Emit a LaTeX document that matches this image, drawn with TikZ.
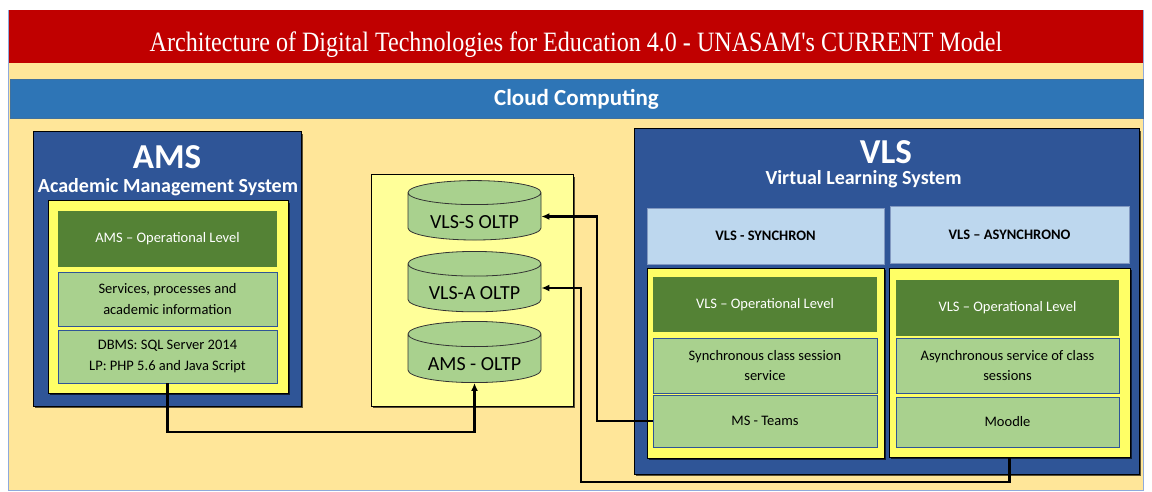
\documentclass[tikz,border=0pt]{standalone}
\usepackage{fontspec}
\setmainfont{Carlito}
\newfontfamily\bannerfont[FakeStretch=0.86]{Liberation Serif}
\usepackage{xcolor}
\usetikzlibrary{arrows.meta,positioning,shapes.geometric,shadows}
\definecolor{ArchRed}{RGB}{192, 0, 0}
\definecolor{ArchSand}{RGB}{255, 230, 153}
\definecolor{ArchCloud}{RGB}{46, 117, 182}
\definecolor{ArchCloudEdge}{RGB}{65, 113, 156}
\definecolor{ArchNavy}{RGB}{47, 85, 151}
\definecolor{ArchLemon}{RGB}{255, 255, 102}
\definecolor{ArchPale}{RGB}{255, 255, 153}
\definecolor{ArchGreen}{RGB}{84, 130, 53}
\definecolor{ArchLeaf}{RGB}{169, 209, 142}
\definecolor{ArchSky}{RGB}{189, 215, 238}
\definecolor{ArchFrame}{RGB}{143, 170, 220}
\tikzset{
    boxshadow/.style={drop shadow={shadow xshift=2pt,shadow yshift=-2pt,fill=black,opacity=.65}},
    banner/.style={fill=ArchRed,text=white,minimum width=1134pt,minimum height=53pt,
        inner sep=0pt,text height=30pt,text depth=0pt,font=\bannerfont\fontsize{28}{32}\selectfont},
    cloudbar/.style={fill=ArchCloud,draw=ArchCloudEdge,line width=1pt,text=white,
        minimum width=1133pt,minimum height=39pt,inner sep=0pt,font=\bfseries\fontsize{23}{26}\selectfont},
    sysbox/.style={boxshadow,fill=ArchNavy,draw=black,line width=1pt,inner sep=0pt},
    bigtitle/.style={text=white,inner sep=0pt,font=\bfseries\fontsize{35}{38}\selectfont},
    subtitle/.style={text=white,inner sep=0pt,font=\bfseries\fontsize{20}{24}\selectfont},
    lemonbox/.style={boxshadow,fill=ArchLemon,draw=black,line width=1pt,inner sep=0pt},
    oplevel/.style={fill=ArchGreen,text=white,inner sep=0pt,font=\fontsize{14.5}{20}\selectfont},
    leafbox/.style={fill=ArchLeaf,draw=ArchNavy,line width=0.8pt,inner sep=0pt,align=center,
        font=\fontsize{14.5}{20.5}\selectfont},
    modehead/.style={fill=ArchSky,draw=ArchNavy!60,line width=0.6pt,inner sep=0pt,
        font=\bfseries\fontsize{14.5}{18}\selectfont},
    oltp/.style={cylinder,shape border rotate=90,aspect=0.27,fill=ArchLeaf,draw=black!80,
        line width=0.8pt,minimum width=133pt,minimum height=57pt,inner sep=0pt,
        text height=23pt,text depth=0pt,font=\fontsize{20}{24}\selectfont},
    conn/.style={line width=2.2pt,-{Latex[length=8pt,width=7pt]}}
}
\begin{document}
\begin{tikzpicture}[x=1pt,y=-1pt]
\useasboundingbox[fill=white] (0,0) rectangle (1152,492);
\filldraw[fill=ArchSand,draw=ArchFrame,line width=0.8pt] (8,10) rectangle (1143,490);
\node[banner] (title) at (576,37) {Architecture of Digital Technologies for Education 4.0 - UNASAM's CURRENT Model};
\node[cloudbar] (cloud) at (576.5,99.5) {Cloud Computing};

% academic management system
\node[sysbox,minimum width=268pt,minimum height=274pt] (ams) at (167,269) {};
\node[bigtitle] (amsName) at (167,157) {AMS};
\node[subtitle] (amsLong) at (168,187) {Academic Management System};
\node[lemonbox,minimum width=240pt,minimum height=192pt] (amsCore) at (168,297) {};
\node[oplevel,minimum width=219pt,minimum height=56pt] (amsOp) at (167.5,239) {AMS – Operational Level};
\node[leafbox,minimum width=219pt,minimum height=54pt] (amsSvc) at (167.5,299) {Services, processes and\\academic information};
\node[leafbox,minimum width=219pt,minimum height=53pt] (amsDbms) at (167.5,356.5) {DBMS: SQL Server 2014\\LP: PHP 5.6 and Java Script};

% databases
\node[boxshadow,fill=ArchPale,draw=black,line width=1pt,minimum width=202pt,minimum height=231pt] (oltpBox) at (472,290.5) {};
\node[oltp] (cylSync) at (474.5,216.5) {VLS-S OLTP};
\node[oltp] (cylAsync) at (474.5,288) {VLS-A OLTP};
\node[oltp] (cylAms) at (474.5,358.5) {AMS - OLTP};

% virtual learning system
\node[sysbox,minimum width=505pt,minimum height=345pt] (vls) at (886.5,301.5) {};
\node[bigtitle] (vlsName) at (886,152) {VLS};
\node[subtitle] (vlsLong) at (863.5,179) {Virtual Learning System};
\node[modehead,minimum width=237pt,minimum height=56pt] (syncHead) at (765.5,236) {VLS - SYNCHRON};
\node[modehead,minimum width=239pt,minimum height=57pt] (asyncHead) at (1009.5,234.5) {VLS – ASYNCHRONO};
\node[lemonbox,minimum width=237pt,minimum height=190pt] (syncCore) at (765.5,363) {};
\node[lemonbox,minimum width=241pt,minimum height=189pt] (asyncCore) at (1009.5,362.5) {};
\node[oplevel,minimum width=224pt,minimum height=55pt] (syncOp) at (765,304.5) {VLS – Operational Level};
\node[leafbox,minimum width=224pt,minimum height=55pt] (syncSvc) at (765,365.5) {Synchronous class session\\service};
\node[leafbox,minimum width=224pt,minimum height=52pt] (teams) at (765,421) {MS - Teams};
\node[oplevel,minimum width=223pt,minimum height=56pt] (asyncOp) at (1007.5,308) {VLS – Operational Level};
\node[leafbox,minimum width=223pt,minimum height=55pt] (asyncSvc) at (1007.5,365.5) {Asynchronous service of class\\sessions};
\node[leafbox,minimum width=223pt,minimum height=50pt] (moodle) at (1007.5,422) {Moodle};

% links to the OLTP stores
\coordinate (busSync) at (597,421);
\coordinate (busAsync) at (581,482);
\coordinate (busAms) at (166,432);
\draw[conn] (teams.west) -- (busSync) |- (cylSync.east);
\draw[conn] (asyncCore.south) |- (busAsync) |- (cylAsync.east);
\draw[conn] (amsDbms.south) -- (amsDbms.south |- busAms) -| (cylAms.south);
\end{tikzpicture}
\end{document}
